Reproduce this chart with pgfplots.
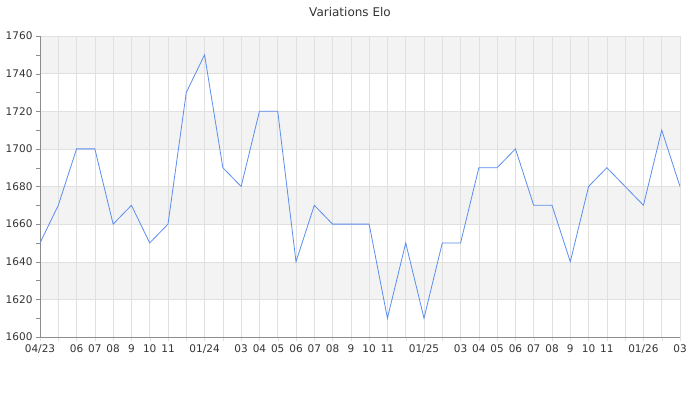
\documentclass[border=0pt]{standalone}
\usepackage{fontspec}
\setmainfont{DejaVu Sans}
\usepackage{pgfplots}
\pgfplotsset{compat=1.18}
\definecolor{band}{HTML}{F3F3F3}
\definecolor{gridc}{HTML}{E0E0E0}
\definecolor{linec}{HTML}{5B8DEF}
\definecolor{axisc}{HTML}{8C8C8C}
\definecolor{textc}{HTML}{333333}
\begin{document}
\begin{tikzpicture}
\begin{axis}[at={(40pt,63pt)}, anchor=south west, width=640pt, height=301pt, scale only axis,
 set layers,
 xmin=0, xmax=35, ymin=1600, ymax=1760,
 ytick={1600,1620,...,1760}, minor y tick num=1,
 xtick={0,...,35},
 xticklabels={04/23,,06,07,08,9,10,11,,01/24,,03,04,05,06,07,08,9,10,11,,01/25,,03,04,05,06,07,08,9,10,11,,01/26,,03},
 axis x line=bottom, axis y line=left, axis line style={-, draw=axisc},
 tick align=outside, major tick length=4pt, minor tick length=4pt,
 xtick style={draw=gridc}, ytick style={draw=axisc},
 grid=major, major grid style={draw=gridc, line width=0.5pt},
 ticklabel style={font=\fontsize{10.5}{12}\selectfont, text=textc},
 /pgf/number format/assume math mode=true,
 /pgf/number format/set thousands separator={},
]
\begin{pgfonlayer}{axis background}
\fill[band] (axis cs:0,1620) rectangle (axis cs:35,1640);
\fill[band] (axis cs:0,1660) rectangle (axis cs:35,1680);
\fill[band] (axis cs:0,1700) rectangle (axis cs:35,1720);
\fill[band] (axis cs:0,1740) rectangle (axis cs:35,1760);
\end{pgfonlayer}
\addplot[linec, line width=0.8pt, mark=none] coordinates {
(0,1650) (1,1670) (2,1700) (3,1700) (4,1660) (5,1670) (6,1650) (7,1660)
(8,1730) (9,1750) (10,1690) (11,1680) (12,1720) (13,1720) (14,1640) (15,1670)
(16,1660) (17,1660) (18,1660) (19,1610) (20,1650) (21,1610) (22,1650) (23,1650)
(24,1690) (25,1690) (26,1700) (27,1670) (28,1670) (29,1640) (30,1680) (31,1690)
(32,1680) (33,1670) (34,1710) (35,1680)
};
\end{axis}
\node[font=\fontsize{12}{14}\selectfont, text=textc] at (350pt,388pt) {Variations Elo};
\path (0pt,0pt) rectangle (700pt,400pt);
\end{tikzpicture}
\end{document}
